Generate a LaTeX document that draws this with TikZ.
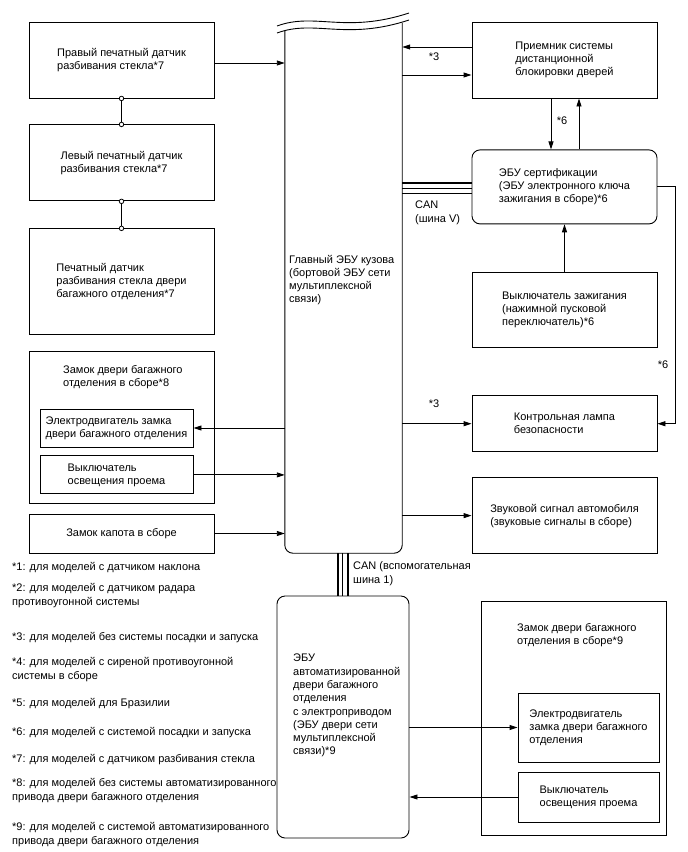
\documentclass[tikz,border=0pt]{standalone}
\usepackage{fontspec}
\setmainfont{Liberation Sans}
\usetikzlibrary{arrows.meta, positioning}

\begin{document}
\begin{tikzpicture}[
  x=1pt, y=-1pt,
  font=\fontsize{11}{13}\selectfont,
  node distance=26pt,
  box/.style={rectangle, draw, line width=0.9pt, align=left, inner sep=0pt},
  rbox/.style={box, rounded corners=8pt},
  txt/.style={align=left, inner sep=0pt},
  note/.style={txt, anchor=north west, font=\fontsize{11}{14.5}\selectfont},
  arrow/.style={-{Triangle[length=8pt, width=5pt]}, line width=0.9pt},
  link/.style={line width=0.9pt},
  busthick/.style={line width=2.2pt},
  busthin/.style={line width=1.1pt},
  joint/.style={circle, draw, fill=white, inner sep=0pt, minimum size=4.5pt, line width=0.8pt}
]
\useasboundingbox (0,0) rectangle (688,852);

% Nodes, left column
\node (rglass) [box, minimum width=185, minimum height=76] at (121.5,60) {Правый печатный датчик\\разбивания стекла*7};
\node (lglass) [box, minimum width=185, minimum height=76, below=of rglass] {Левый печатный датчик\\разбивания стекла*7};
\node (bdglass) [box, minimum width=185, minimum height=106, below=27pt of lglass] {Печатный датчик\\разбивания стекла двери\\багажного отделения*7};
\node (bdlock) [box, minimum width=185, minimum height=152, below=16pt of bdglass] {};
\node (bdlocktxt) [txt, anchor=north west] at (63,365) {Замок двери багажного\\отделения в сборе*8};
\node (motor) [box, minimum width=153, minimum height=38] at (116.5,428) {Электродвигатель замка\\двери багажного отделения};
\node (lampsw) [box, minimum width=153, minimum height=38, below=8pt of motor] {Выключатель\\освещения проема};
\node (hood) [box, minimum width=185, minimum height=39] at (121.5,533.5) {Замок капота в сборе};

% Body ECU
\node (body) [minimum width=117, minimum height=522, inner sep=0pt] at (343.5,292) {};
\draw[link, rounded corners=8pt] (body.north west) -- (body.south west) -- (body.south east) -- ([yshift=8pt]body.north east);
\draw[link] (277,26) .. controls (315,12) and (345,34) .. (409,13);
\draw[link] (277,33) .. controls (315,19) and (345,41) .. (409,20);
\node (bodytxt) [txt, anchor=north west] at (289,255) {Главный ЭБУ кузова\\(бортовой ЭБУ сети\\мультиплексной\\связи)};

% Nodes, right column
\node (rx) [box, minimum width=185, minimum height=76] at (564.5,60) {Приемник системы\\дистанционной\\блокировки дверей};
\node (cert) [rbox, minimum width=185, minimum height=74, below=51pt of rx] {ЭБУ сертификации\\(ЭБУ электронного ключа\\зажигания в сборе)*6};
\node (ign) [box, minimum width=185, minimum height=75, below=48pt of cert] {Выключатель зажигания\\(нажимной пусковой\\переключатель)*6};
\node (alarm) [box, minimum width=185, minimum height=56, below=47pt of ign] {Контрольная лампа\\безопасности};
\node (horn) [box, minimum width=185, minimum height=76, below=25pt of alarm] {Звуковой сигнал автомобиля\\(звуковые сигналы в сборе)};

% Nodes, power back door
\node (pbd) [rbox, minimum width=132, minimum height=242] at (343,717) {};
\node (pbdtxt) [txt, anchor=north west, font=\fontsize{11}{13.3}\selectfont] at (293,654) {ЭБУ\\автоматизированной\\двери багажного\\отделения\\с электроприводом\\(ЭБУ двери сети\\мультиплексной\\связи)*9};
\node (pbdlock) [box, minimum width=185, minimum height=234] at (573.5,718) {};
\node (pbdlocktxt) [txt, anchor=north west] at (517,623) {Замок двери багажного\\отделения в сборе*9};
\node (pbdmotor) [box, minimum width=141, minimum height=69] at (588.5,727.5) {Электродвигатель\\замка двери багажного\\отделения};
\node (pbdsw) [box, minimum width=141, minimum height=50] at (588.5,797) {Выключатель\\освещения проема};

% Sensor chain
\draw[link] (rglass.south) -- (lglass.north);
\draw[link] (lglass.south) -- (bdglass.north);
\node (j1) [joint] at (rglass.south) {};
\node (j2) [joint] at (lglass.north) {};
\node (j3) [joint] at (lglass.south) {};
\node (j4) [joint] at (bdglass.north) {};

% Arrows
\draw[arrow] ([yshift=-3pt]rglass.east) -- ([yshift=-3pt]rglass.east -| body.west);
\draw[arrow] (motor.east -| body.west) -- (motor.east);
\draw[arrow] (lampsw.east) -- (lampsw.east -| body.west);
\draw[arrow] (hood.east) -- (hood.east -| body.west);

\draw[arrow] ([yshift=13pt]rx.west) -- ([yshift=13pt]rx.west -| body.east);
\draw[arrow] ([yshift=-15pt]rx.west -| body.east) -- ([yshift=-15pt]rx.west);
\node (n3a) [txt] at (434,57) {*3};
\draw[arrow] ([xshift=-13.5pt]rx.south) -- ([xshift=-13.5pt]rx.south |- cert.north);
\draw[arrow] ([xshift=14.5pt]rx.south |- cert.north) -- ([xshift=14.5pt]rx.south);
\node (n6a) [txt] at (562,121) {*6};
\draw[arrow] (ign.north) -- (cert.south);
\draw[arrow] (cert.east) -- ++(18,0) |- (alarm.east);
\node (n6b) [txt] at (663,365) {*6};
\draw[arrow] (alarm.west -| body.east) -- (alarm.west);
\node (n3b) [txt] at (434,404) {*3};
\draw[arrow] (horn.west -| body.east) -- (horn.west);

\draw[arrow] (pbdmotor.west -| pbd.east) -- (pbdmotor.west);
\draw[arrow] (pbdsw.west) -- (pbdsw.west -| pbd.east);

% CAN lines
\draw[busthick] ([yshift=4pt]cert.west -| body.east) -- ([yshift=4pt]cert.west);
\draw[busthin] ([yshift=-1.5pt]cert.west -| body.east) -- ([yshift=-1.5pt]cert.west);
\draw[busthin] ([yshift=-6.5pt]cert.west -| body.east) -- ([yshift=-6.5pt]cert.west);
\node (canv) [txt, anchor=north west, font=\fontsize{11}{14}\selectfont] at (415,201) {CAN\\(шина V)};
\draw[busthick] ([xshift=-5.5pt]body.south) -- ([xshift=-5.5pt]body.south |- pbd.north);
\draw[busthin] ([xshift=-1pt]body.south) -- ([xshift=-1pt]body.south |- pbd.north);
\draw[busthin] ([xshift=4.5pt]body.south) -- ([xshift=4.5pt]body.south |- pbd.north);
\node (can1) [txt, anchor=north west, font=\fontsize{11}{14.5}\selectfont] at (353,561) {CAN (вспомогательная\\шина 1)};

% Notes
\node (fn1) [note] at (12,562) {*1: для моделей с датчиком наклона};
\node (fn2) [note] at (12,583) {*2: для моделей с датчиком радара\\противоугонной системы};
\node (fn3) [note] at (12,632) {*3: для моделей без системы посадки и запуска};
\node (fn4) [note] at (12,657) {*4: для моделей с сиреной противоугонной\\системы в сборе};
\node (fn5) [note] at (12,698) {*5: для моделей для Бразилии};
\node (fn6) [note] at (12,727) {*6: для моделей с системой посадки и запуска};
\node (fn7) [note] at (12,754) {*7: для моделей с датчиком разбивания стекла};
\node (fn8) [note] at (12,778) {*8: для моделей без системы автоматизированного\\привода двери багажного отделения};
\node (fn9) [note] at (12,822) {*9: для моделей с системой автоматизированного\\привода двери багажного отделения};

\end{tikzpicture}
\end{document}
